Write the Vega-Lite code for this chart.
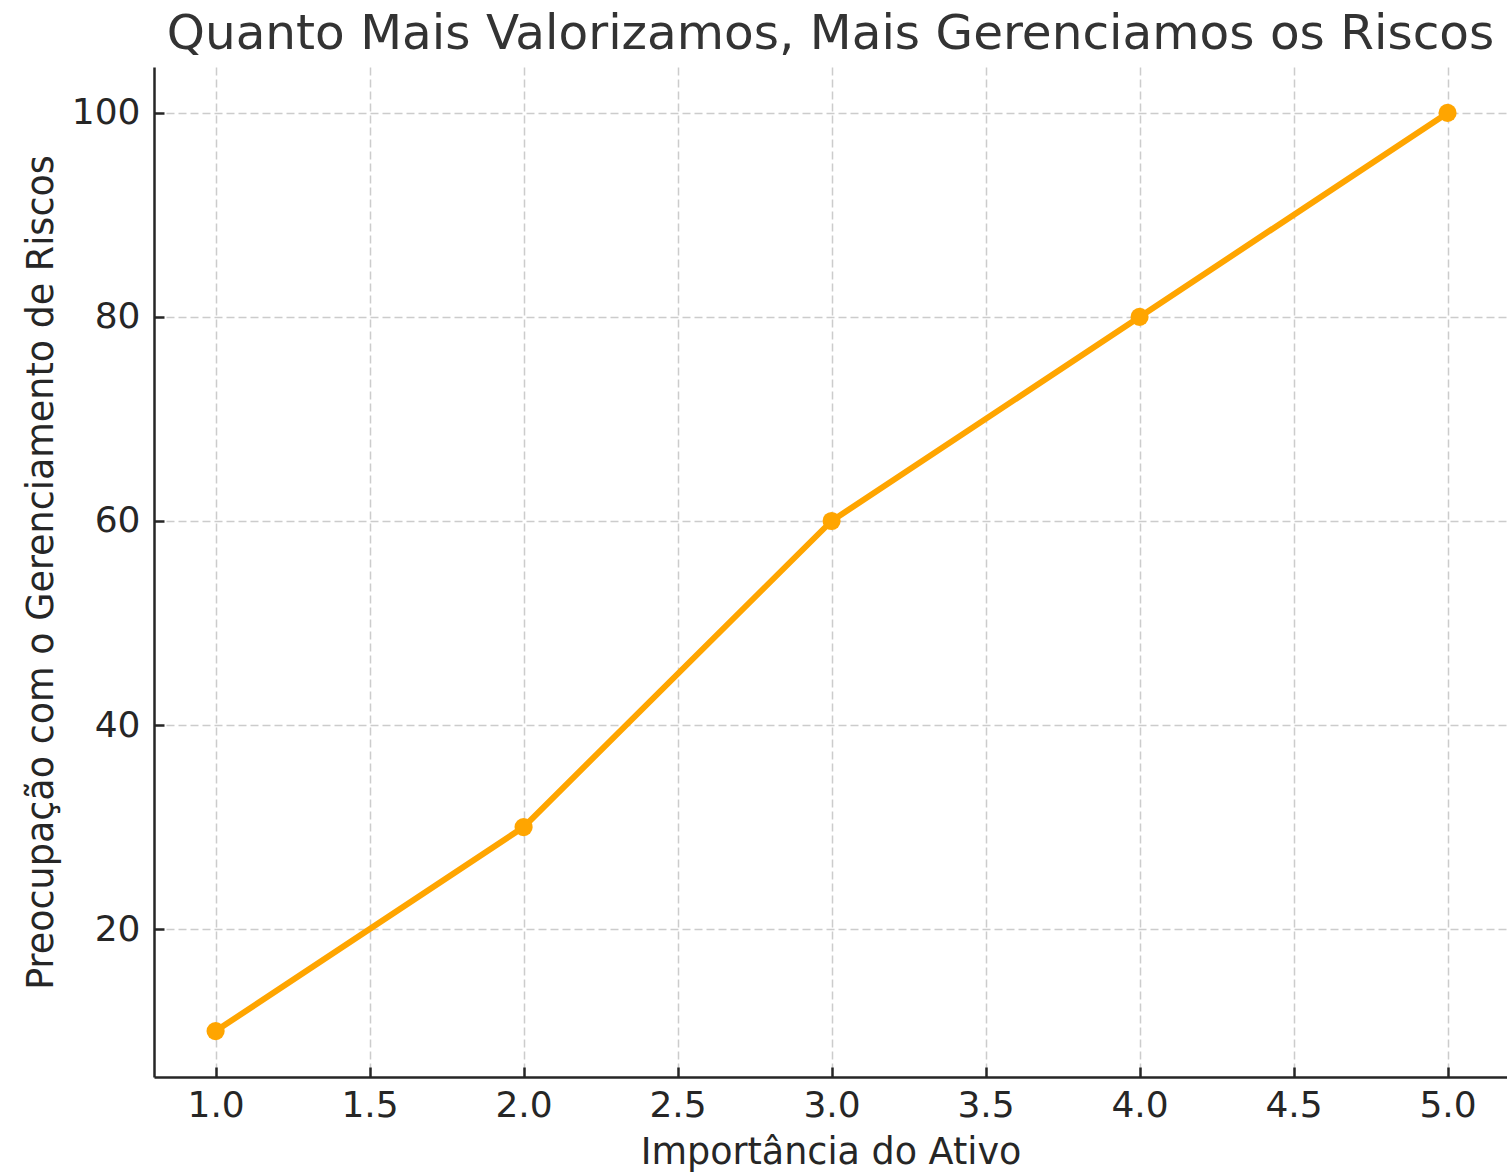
{
  "$schema": "https://vega.github.io/schema/vega-lite/v6.json",
  "autosize": {"type": "none"},
  "padding": {"left": 154, "top": 67, "right": 0, "bottom": 97},
  "width": 1353,
  "height": 1010,
  "background": "white",
  "title": {
    "text": "Quanto Mais Valorizamos, Mais Gerenciamos os Riscos",
    "font": "DejaVu Sans",
    "fontSize": 48.5,
    "fontWeight": "normal",
    "color": "#333333",
    "anchor": "middle",
    "baseline": "alphabetic",
    "offset": 17,
    "dy": 47
  },
  "config": {
    "view": {"stroke": null},
    "axis": {
      "labelFont": "DejaVu Sans",
      "titleFont": "DejaVu Sans",
      "labelFontSize": 36,
      "titleFontSize": 36.5,
      "titleFontWeight": "normal",
      "labelColor": "#262626",
      "titleColor": "#262626",
      "domainColor": "#262626",
      "domainWidth": 2.5,
      "tickColor": "#262626",
      "tickWidth": 2.5,
      "tickSize": -10,
      "gridColor": "#cccccc",
      "gridWidth": 1.5,
      "gridDash": [8, 4],
      "grid": true
    }
  },
  "data": {
    "values": [
      {"importancia": 1, "preocupacao": 10},
      {"importancia": 2, "preocupacao": 30},
      {"importancia": 3, "preocupacao": 60},
      {"importancia": 4, "preocupacao": 80},
      {"importancia": 5, "preocupacao": 100}
    ]
  },
  "encoding": {
    "x": {
      "field": "importancia",
      "type": "quantitative",
      "scale": {"domain": [0.8, 5.193], "nice": false, "zero": false},
      "axis": {
        "title": "Importância do Ativo",
        "values": [1, 1.5, 2, 2.5, 3, 3.5, 4, 4.5, 5],
        "format": ".1f",
        "labelPadding": 21,
        "labelFlush": false,
        "titleX": 676.5,
        "titleY": 86,
        "titleBaseline": "alphabetic",
        "titleAnchor": "middle"
      }
    },
    "y": {
      "field": "preocupacao",
      "type": "quantitative",
      "scale": {"domain": [5.5, 104.5], "nice": false, "zero": false},
      "axis": {
        "title": "Preocupação com o Gerenciamento de Riscos",
        "values": [20, 40, 60, 80, 100],
        "labelPadding": 24,
        "labelFlush": false,
        "titleX": -102,
        "titleY": 505,
        "titleAngle": -90,
        "titleBaseline": "alphabetic",
        "titleAlign": "center",
        "titleAnchor": "middle"
      }
    }
  },
  "layer": [
    {"mark": {"type": "line", "color": "#FFA500", "strokeWidth": 6}},
    {"mark": {"type": "point", "filled": true, "color": "#FFA500", "size": 330, "opacity": 1}}
  ]
}
